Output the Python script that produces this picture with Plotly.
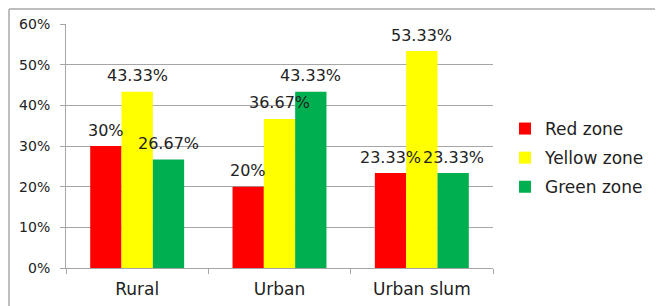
import plotly.graph_objects as go

categories = ["Rural", "Urban", "Urban slum"]
series_names = ["Red zone", "Yellow zone", "Green zone"]
red_zone = [30, 20, 23.33]
yellow_zone = [43.33, 36.67, 53.33]
green_zone = [26.67, 43.33, 23.33]
y_ticks = [0, 10, 20, 30, 40, 50, 60]
y_tick_labels = ["0%", "10%", "20%", "30%", "40%", "50%", "60%"]

colors = ["#FF0000", "#FFFF00", "#00B050"]
series_values = [red_zone, yellow_zone, green_zone]

FONT = "DejaVu Sans"
BARGAP = 0.34

# page body has an 8px margin; plot area (page px): x 66..493, y 24..268
PL, PT, PW, PH = 58, 16, 427, 244

def fmt(v):
    s = f"{v:.2f}".rstrip("0").rstrip(".")
    return s + "%"

fig = go.Figure()
for i, (name, vals, col) in enumerate(zip(series_names, series_values, colors)):
    fig.add_trace(go.Bar(
        x=categories, y=vals, name=name,
        marker=dict(color=col, line=dict(width=0)),
        legendgroup=name,
    ))

bar_w = (1 - BARGAP) / len(series_names)
annotations = []
for si, vals in enumerate(series_values):
    off = (si - (len(series_names) - 1) / 2) * bar_w
    for ci, v in enumerate(vals):
        annotations.append(dict(
            x=ci + off, y=v, xref="x", yref="y",
            text=fmt(v), showarrow=False,
            yanchor="middle", yshift=16,
            font=dict(family=FONT, size=16, color="#222222"),
        ))

def px_x(p):  # page px -> paper x
    return (p - 8 - PL) / PW

def px_y(p):  # page px -> paper y
    return 1 - (p - 8 - PT) / PH

shapes = [
    dict(type="line", xref="paper", yref="paper",
         x0=px_x(9), x1=px_x(720), y0=px_y(9), y1=px_y(9),
         line=dict(color="#BDBDBD", width=2)),
    dict(type="line", xref="paper", yref="paper",
         x0=px_x(9), x1=px_x(9), y0=px_y(9), y1=px_y(330),
         line=dict(color="#BDBDBD", width=2)),
]

fig.update_layout(
    width=663, height=306,
    margin=dict(l=PL, r=663 - PL - PW, t=PT, b=306 - PT - PH, autoexpand=False),
    paper_bgcolor="white", plot_bgcolor="white",
    barmode="group", bargap=BARGAP, bargroupgap=0,
    font=dict(family=FONT, color="#222222"),
    showlegend=True,
    legend=dict(
        x=px_x(505), xanchor="left",
        y=px_y(158), yanchor="middle",
        font=dict(family=FONT, size=17, color="#222222"),
        tracegroupgap=4, traceorder="grouped",
        bgcolor="rgba(0,0,0,0)",
    ),
    annotations=annotations,
    shapes=shapes,
    xaxis=dict(
        automargin=False,
        showline=True, linecolor="#A6A6A6", linewidth=1,
        ticks="outside", tickson="boundaries", ticklen=5, tickcolor="#A6A6A6",
        tickfont=dict(family=FONT, size=17, color="#222222"),
        showgrid=False, ticklabelstandoff=6,
    ),
    yaxis=dict(
        automargin=False,
        range=[0, 60], tickvals=y_ticks, ticktext=y_tick_labels,
        showline=True, linecolor="#A6A6A6", linewidth=1,
        ticks="outside", ticklen=5, tickcolor="#A6A6A6",
        showgrid=True, gridcolor="#A6A6A6", gridwidth=1,
        zeroline=False,
        tickfont=dict(family=FONT, size=14, color="#222222"),
        ticklabelstandoff=7,
    ),
)

fig.write_html("out.html")
